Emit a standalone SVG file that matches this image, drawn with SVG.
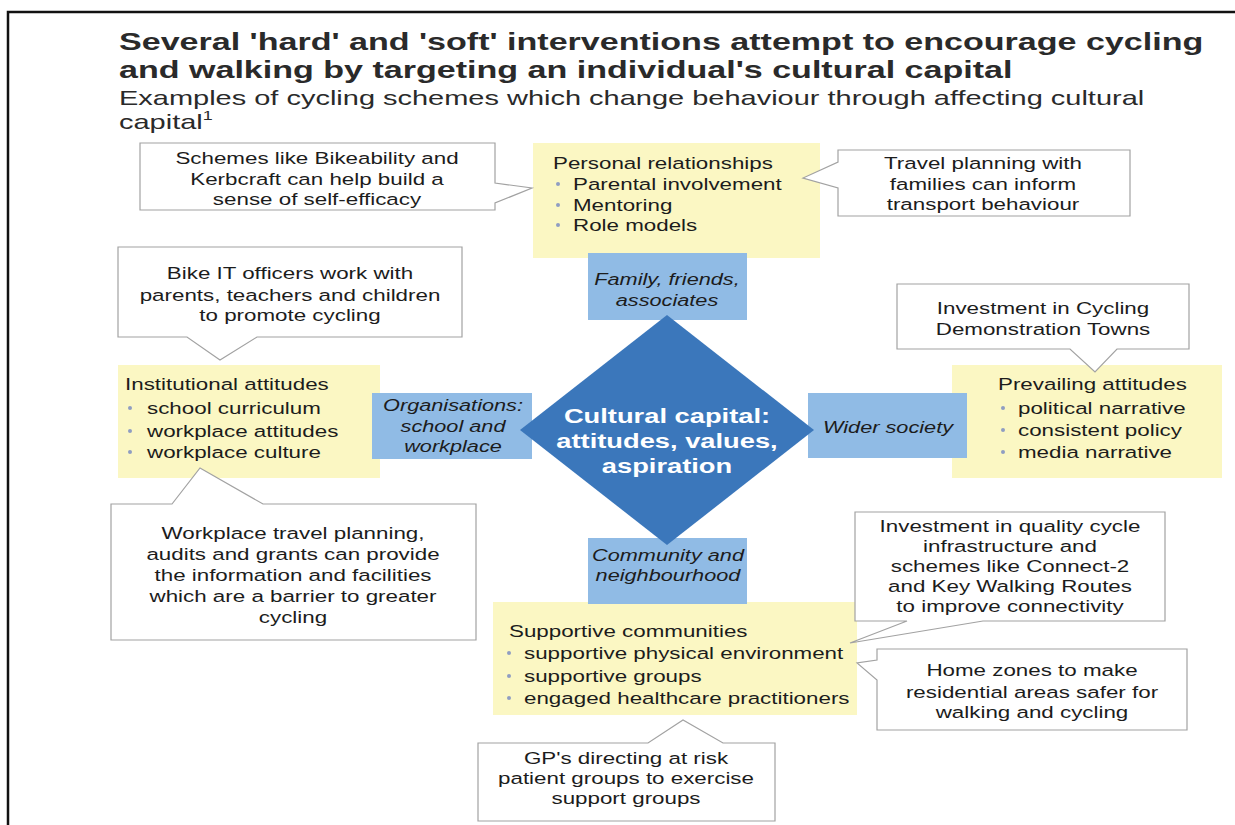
<svg xmlns="http://www.w3.org/2000/svg" width="1235" height="825" viewBox="0 0 1235 825">
<style>
.t{font-family:"Liberation Sans",Arial,sans-serif;font-size:17.2px;fill:#1c1c1c}
.ttl{font-family:"Liberation Sans",Arial,sans-serif;font-size:24.5px;font-weight:bold;fill:#2a2a2a}
.sub{font-family:"Liberation Sans",Arial,sans-serif;font-size:21px;fill:#2a2a2a}
.it{font-family:"Liberation Sans",Arial,sans-serif;font-size:16.7px;font-style:italic;fill:#1c1c1c}
.dm{font-family:"Liberation Sans",Arial,sans-serif;font-size:21px;font-weight:bold;fill:#ffffff}
.c{text-anchor:middle}
.cl{fill:#ffffff;stroke:#a2a2a2;stroke-width:1.2}
.yl{fill:#fbf7c3}
.bl{fill:#90bbe5}
.bu{fill:#8f9dc2}
</style>
<path d="M8 825 V12 H1235" fill="none" stroke="#111" stroke-width="2.5"/>
<g id="title">
<text class="ttl" transform="translate(119 0) scale(1.39 1)" x="0" y="50">Several 'hard' and 'soft' interventions attempt to encourage cycling</text>
<text class="ttl" transform="translate(119 0) scale(1.39 1)" x="0" y="78">and walking by targeting an individual's cultural capital</text>
<text class="sub" transform="translate(119 0) scale(1.38 1)" x="0" y="105">Examples of cycling schemes which change behaviour through affecting cultural</text>
<text class="sub" transform="translate(119 0) scale(1.38 1)" x="0" y="129">capital<tspan font-size="13" dy="-9">1</tspan></text>
</g>
<g id="connectors"></g>
<g id="personal">
<rect class="yl" x="533" y="143" width="287" height="115"/>
<text class="t" transform="translate(553 0) scale(1.3 1)"><tspan x="0" y="169">Personal relationships</tspan></text>
<circle class="bu" cx="558" cy="184" r="2"/><circle class="bu" cx="558" cy="205" r="2"/><circle class="bu" cx="558" cy="225" r="2"/>
<text class="t" transform="translate(573 0) scale(1.3 1)"><tspan x="0" y="190">Parental involvement</tspan><tspan x="0" y="211">Mentoring</tspan><tspan x="0" y="231">Role models</tspan></text>
</g>
<g id="institutional">
<rect class="yl" x="118" y="365" width="262" height="113"/>
<text class="t" transform="translate(125 0) scale(1.3 1)"><tspan x="0" y="390">Institutional attitudes</tspan></text>
<circle class="bu" cx="130" cy="408" r="2"/><circle class="bu" cx="130" cy="431" r="2"/><circle class="bu" cx="130" cy="452" r="2"/>
<text class="t" transform="translate(147 0) scale(1.3 1)"><tspan x="0" y="414">school curriculum</tspan><tspan x="0" y="437">workplace attitudes</tspan><tspan x="0" y="458">workplace culture</tspan></text>
</g>
<g id="prevailing">
<rect class="yl" x="952" y="365" width="270" height="113"/>
<text class="t" transform="translate(998 0) scale(1.3 1)"><tspan x="0" y="390">Prevailing attitudes</tspan></text>
<circle class="bu" cx="1003" cy="408" r="2"/><circle class="bu" cx="1003" cy="430" r="2"/><circle class="bu" cx="1003" cy="452" r="2"/>
<text class="t" transform="translate(1018 0) scale(1.3 1)"><tspan x="0" y="414">political narrative</tspan><tspan x="0" y="436">consistent policy</tspan><tspan x="0" y="458">media narrative</tspan></text>
</g>
<g id="supportive">
<rect class="yl" x="493" y="602" width="364" height="113"/>
<text class="t" transform="translate(509 0) scale(1.3 1)"><tspan x="0" y="637">Supportive communities</tspan></text>
<circle class="bu" cx="509" cy="653" r="2"/><circle class="bu" cx="509" cy="676" r="2"/><circle class="bu" cx="509" cy="698" r="2"/>
<text class="t" transform="translate(524 0) scale(1.3 1)"><tspan x="0" y="659">supportive physical environment</tspan><tspan x="0" y="682">supportive groups</tspan><tspan x="0" y="704">engaged healthcare practitioners</tspan></text>
</g>
<g id="callout-schemes">
<path class="cl" d="M140 143 H495 V183 L532 188 L495 203 V210 H140 Z"/>
<text class="t c" transform="translate(317 0) scale(1.3 1)"><tspan x="0" y="164">Schemes like Bikeability and</tspan><tspan x="0" y="185">Kerbcraft can help build a</tspan><tspan x="0" y="205">sense of self-efficacy</tspan></text>
</g>
<g id="callout-travel">
<path class="cl" d="M838 150 H1130 V216 H838 V188 L803 178 L838 162 Z"/>
<text class="t c" transform="translate(983 0) scale(1.3 1)"><tspan x="0" y="169">Travel planning with</tspan><tspan x="0" y="190">families can inform</tspan><tspan x="0" y="210">transport behaviour</tspan></text>
</g>
<g id="callout-bikeit">
<path class="cl" d="M118 247 H462 V337 H257 L220 360 L187 337 H118 Z"/>
<text class="t c" transform="translate(290 0) scale(1.3 1)"><tspan x="0" y="279">Bike IT officers work with</tspan><tspan x="0" y="301">parents, teachers and children</tspan><tspan x="0" y="321">to promote cycling</tspan></text>
</g>
<g id="callout-cdt">
<path class="cl" d="M897 284 H1189 V349 H1117 L1095 372 L1070 349 H897 Z"/>
<text class="t c" transform="translate(1043 0) scale(1.3 1)"><tspan x="0" y="314">Investment in Cycling</tspan><tspan x="0" y="335">Demonstration Towns</tspan></text>
</g>
<g id="callout-workplace">
<path class="cl" d="M111 504 H172 L200 468 L263 504 H476 V640 H111 Z"/>
<text class="t c" transform="translate(293 0) scale(1.3 1)"><tspan x="0" y="539">Workplace travel planning,</tspan><tspan x="0" y="560">audits and grants can provide</tspan><tspan x="0" y="581">the information and facilities</tspan><tspan x="0" y="602">which are a barrier to greater</tspan><tspan x="0" y="623">cycling</tspan></text>
</g>
<g id="callout-quality">
<path class="cl" d="M855 512 H1165 V621 H983 L850 643 L907 621 H855 Z"/>
<text class="t c" transform="translate(1010 0) scale(1.3 1)"><tspan x="0" y="532">Investment in quality cycle</tspan><tspan x="0" y="552">infrastructure and</tspan><tspan x="0" y="572">schemes like Connect-2</tspan><tspan x="0" y="592">and Key Walking Routes</tspan><tspan x="0" y="612">to improve connectivity</tspan></text>
</g>
<g id="callout-homezones">
<path class="cl" d="M877 649 H1187 V730 H877 V680 L857 663 L877 660 Z"/>
<text class="t c" transform="translate(1032 0) scale(1.3 1)"><tspan x="0" y="676">Home zones to make</tspan><tspan x="0" y="698">residential areas safer for</tspan><tspan x="0" y="718">walking and cycling</tspan></text>
</g>
<g id="callout-gp">
<path class="cl" d="M478 743 H648 L683 720 L723 743 H775 V821 H478 Z"/>
<text class="t c" transform="translate(626 0) scale(1.3 1)"><tspan x="0" y="764">GP's directing at risk</tspan><tspan x="0" y="784">patient groups to exercise</tspan><tspan x="0" y="804">support groups</tspan></text>
</g>
<g id="family">
<rect class="bl" x="588" y="253" width="159" height="67"/>
<text class="it c" transform="translate(667 0) scale(1.3 1)"><tspan x="0" y="285">Family, friends,</tspan><tspan x="0" y="306">associates</tspan></text>
</g>
<g id="organisations">
<rect class="bl" x="372" y="393" width="160" height="66"/>
<text class="it c" transform="translate(453 0) scale(1.3 1)"><tspan x="0" y="411">Organisations:</tspan><tspan x="0" y="432">school and</tspan><tspan x="0" y="452">workplace</tspan></text>
</g>
<g id="wider">
<rect class="bl" x="808" y="393" width="159" height="65"/>
<text class="it c" transform="translate(888 0) scale(1.3 1)"><tspan x="0" y="433">Wider society</tspan></text>
</g>
<g id="community">
<rect class="bl" x="588" y="538" width="159" height="66"/>
<text class="it c" transform="translate(668 0) scale(1.3 1)"><tspan x="0" y="561">Community and</tspan><tspan x="0" y="581">neighbourhood</tspan></text>
</g>
<g id="diamond">
<polygon points="667,315 814,430 667,545 520,430" fill="#3b77bb"/>
<text class="dm c" transform="translate(667 0) scale(1.3 1)"><tspan x="0" y="423">Cultural capital:</tspan><tspan x="0" y="448">attitudes, values,</tspan><tspan x="0" y="473">aspiration</tspan></text>
</g>
</svg>
